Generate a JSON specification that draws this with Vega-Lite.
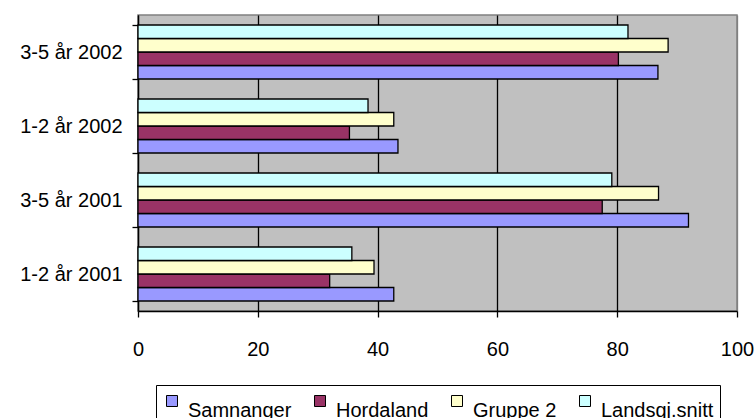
{
  "$schema": "https://vega.github.io/schema/vega-lite/v6.json",
  "autosize": "none",
  "padding": {"left": 138, "top": 15, "right": 19, "bottom": 107},
  "width": 599,
  "height": 296,
  "background": "white",
  "data": {
    "values": [
      {"kategori": "1-2 år 2001", "serie": "Samnanger", "verdi": 42.7},
      {"kategori": "1-2 år 2001", "serie": "Hordaland", "verdi": 32.0},
      {"kategori": "1-2 år 2001", "serie": "Gruppe 2", "verdi": 39.4},
      {"kategori": "1-2 år 2001", "serie": "Landsgj.snitt", "verdi": 35.7},
      {"kategori": "3-5 år 2001", "serie": "Samnanger", "verdi": 91.9},
      {"kategori": "3-5 år 2001", "serie": "Hordaland", "verdi": 77.5},
      {"kategori": "3-5 år 2001", "serie": "Gruppe 2", "verdi": 86.9},
      {"kategori": "3-5 år 2001", "serie": "Landsgj.snitt", "verdi": 79.1},
      {"kategori": "1-2 år 2002", "serie": "Samnanger", "verdi": 43.4},
      {"kategori": "1-2 år 2002", "serie": "Hordaland", "verdi": 35.3},
      {"kategori": "1-2 år 2002", "serie": "Gruppe 2", "verdi": 42.7},
      {"kategori": "1-2 år 2002", "serie": "Landsgj.snitt", "verdi": 38.4},
      {"kategori": "3-5 år 2002", "serie": "Samnanger", "verdi": 86.8},
      {"kategori": "3-5 år 2002", "serie": "Hordaland", "verdi": 80.2},
      {"kategori": "3-5 år 2002", "serie": "Gruppe 2", "verdi": 88.5},
      {"kategori": "3-5 år 2002", "serie": "Landsgj.snitt", "verdi": 81.8}
    ]
  },
  "mark": {"type": "bar", "stroke": "black", "strokeWidth": 1.3, "cornerRadius": 0},
  "encoding": {
    "y": {
      "field": "kategori",
      "type": "nominal",
      "sort": ["3-5 år 2002", "1-2 år 2002", "3-5 år 2001", "1-2 år 2001"],
      "scale": {"paddingInner": 0.27, "paddingOuter": 0.135},
      "axis": {
        "title": null,
        "tickBand": "extent",
        "tickSize": 6,
        "tickColor": "black",
        "domainColor": "black",
        "domainWidth": 1.3,
        "tickWidth": 1.3,
        "labelPadding": 10,
        "labelFont": "Liberation Sans",
        "labelFontSize": 20,
        "labelColor": "black",
        "grid": false
      }
    },
    "yOffset": {
      "field": "serie",
      "type": "nominal",
      "sort": ["Landsgj.snitt", "Gruppe 2", "Hordaland", "Samnanger"],
      "scale": {"paddingInner": 0, "paddingOuter": 0}
    },
    "x": {
      "field": "verdi",
      "type": "quantitative",
      "scale": {"domain": [0, 100], "nice": false},
      "axis": {
        "title": null,
        "values": [0, 20, 40, 60, 80, 100],
        "tickSize": 6,
        "tickColor": "black",
        "tickWidth": 1.3,
        "domainColor": "black",
        "domainWidth": 1.3,
        "labelPadding": 22,
        "labelFont": "Liberation Sans",
        "labelFontSize": 20,
        "labelColor": "black",
        "labelFlush": false,
        "grid": true,
        "gridColor": {"condition": {"test": "datum.value >= 100", "value": "#808080"}, "value": "black"},
        "gridWidth": 1.3,
        "gridOpacity": 1
      }
    },
    "color": {
      "field": "serie",
      "type": "nominal",
      "scale": {
        "domain": ["Samnanger", "Hordaland", "Gruppe 2", "Landsgj.snitt"],
        "range": ["#9999FF", "#993366", "#FFFFCC", "#CCFFFF"]
      },
      "legend": {
        "title": null,
        "orient": "bottom",
        "direction": "horizontal",
        "columns": 4,
        "offset": 26,
        "padding": 6,
        "fillColor": "white",
        "strokeColor": "black",
        "symbolType": "square",
        "symbolSize": 121,
        "symbolStrokeColor": "black",
        "symbolStrokeWidth": 1,
        "symbolOpacity": 1,
        "labelFont": "Liberation Sans",
        "labelFontSize": 20,
        "labelColor": "black",
        "labelBaseline": "top",
        "labelOffset": 6,
        "columnPadding": 18,
        "labelLimit": 300
      }
    }
  },
  "config": {
    "view": {"fill": "#C0C0C0", "stroke": "#808080", "strokeWidth": 1.5},
    "legend": {"layout": {"bottom": {"anchor": "middle"}}}
  }
}
